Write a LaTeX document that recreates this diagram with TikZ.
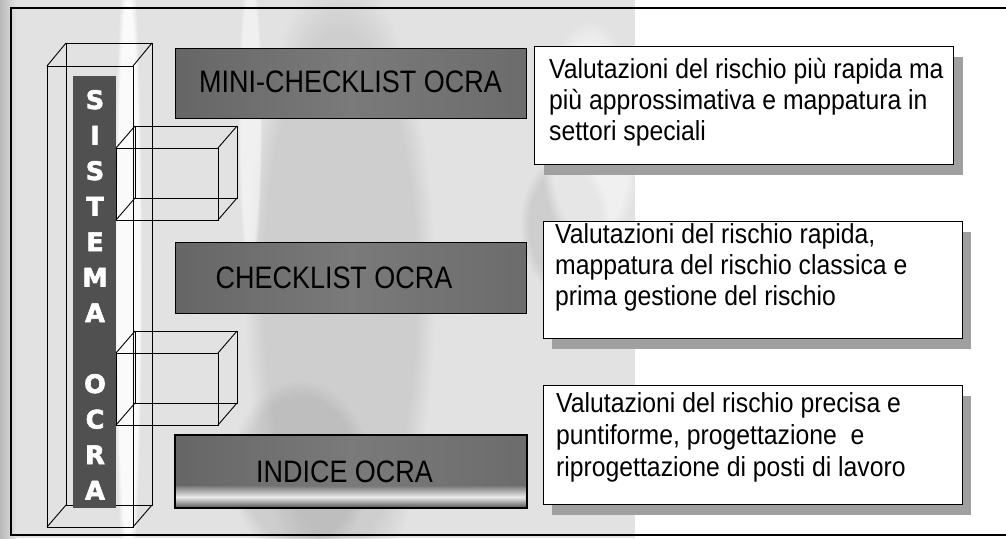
\documentclass[tikz,border=0pt]{standalone}
\usepackage{fontspec}
\setmainfont{Liberation Sans}
\newfontfamily\narrowfont[FakeStretch=0.87]{Liberation Sans}
\newfontfamily\descfont[FakeStretch=0.9]{Liberation Sans}
\newfontfamily\heavyfont[FakeBold=2.5]{DejaVu Sans Bold}
\usetikzlibrary{fadings}
\definecolor{bgc}{RGB}{226,226,226}
\definecolor{barc}{RGB}{80,80,80}
\definecolor{boxa}{RGB}{102,102,102}
\definecolor{boxb}{RGB}{122,122,122}
\definecolor{boxc}{RGB}{108,108,108}
\definecolor{shadowc}{RGB}{160,160,160}
\tikzset{
  wire/.style={draw=black,line width=0.9pt},
  graybox/.style={draw=black,line width=1.1pt,left color=boxa,right color=boxc,middle color=boxb,
    minimum width=351pt,minimum height=70pt,anchor=north west,inner sep=0pt},
  graylabel/.style={font=\narrowfont\fontsize{31}{31}\selectfont,text=black,inner sep=0pt},
  descbox/.style={draw=black,line width=1.1pt,fill=white,minimum width=419pt,
    minimum height=118pt,anchor=north west,inner sep=0pt},
  desctext/.style={anchor=base west,inner sep=0pt,font=\descfont\fontsize{27.5}{31}\selectfont},
  shadowbox/.style={fill=shadowc},
  barlabel/.style={anchor=base,inner sep=0pt,text=white,font=\heavyfont\fontsize{25.5}{35.5}\selectfont},
  frameline/.style={draw=black,line width=2.5pt}
}
\begin{document}
\begin{tikzpicture}[x=1pt,y=-1pt]
\useasboundingbox (0,0) rectangle (1006,538);
% background photo
\fill[white] (0,0) rectangle (1006,538);
\fill[bgc] (0,0) rectangle (635,538);
\shade[left color=gray!55,right color=bgc] (0,0) rectangle (16,538);
\fill[gray,opacity=0.2,path fading=circle with fuzzy edge 20 percent] (340,290) ellipse (95 and 320);
\fill[gray,opacity=0.2,path fading=circle with fuzzy edge 20 percent] (300,470) ellipse (70 and 90);
\fill[gray,opacity=0.2,path fading=circle with fuzzy edge 20 percent] (565,225) ellipse (45 and 70);
\fill[white,opacity=0.85,path fading=circle with fuzzy edge 20 percent] (128,270) ellipse (14 and 330);
\fill[white,opacity=0.5,path fading=circle with fuzzy edge 20 percent] (250,120) ellipse (12 and 160);
\fill[white,opacity=0.5,path fading=circle with fuzzy edge 20 percent] (590,140) ellipse (50 and 120);
% frame
\draw[frameline] (1006,8) -- (11,8) -- (11,535) -- (1006,535);
% column wireframe
\draw[wire] (47,66) rectangle (133,527);
\draw[wire] (66,43) rectangle (152,505);
\draw[wire] (47,66) -- (66,43) (133,66) -- (152,43) (47,527) -- (66,505) (133,527) -- (152,505);
% dark bar with letters
\fill[barc] (73,76) rectangle (116,508);
\node[barlabel] (sistema) at (95,109) {\parbox[t]{30pt}{\centering S\\I\\S\\T\\E\\M\\A\\\mbox{}\\O\\C\\R\\A}};
% small connecting boxes
\draw[wire] (116,148) rectangle (218,220);
\draw[wire] (135,126) rectangle (237,198);
\draw[wire] (116,148) -- (135,126) (218,148) -- (237,126) (116,220) -- (135,198) (218,220) -- (237,198);
\draw[wire] (116,353) rectangle (218,425);
\draw[wire] (135,331) rectangle (237,403);
\draw[wire] (116,353) -- (135,331) (218,353) -- (237,331) (116,425) -- (135,403) (218,425) -- (237,403);
% grey boxes
\node[graybox] (mini) at (175,48) {};
\node[graylabel] (minilab) at (350.5,82) {MINI-CHECKLIST OCRA};
\node[graybox,minimum height=71pt] (check) at (175,242) {};
\node[graylabel] (checklab) at (334,278) {CHECKLIST OCRA};
\node[graybox,minimum height=72pt] (indice) at (175,435) {};
\shade[top color=boxb,bottom color=gray!15] (175.6,486) rectangle (525.4,497);
\shade[top color=gray!15,bottom color=boxa] (175.6,497) rectangle (525.4,506.4);
\draw[draw=black,line width=1.1pt] (indice.north west) rectangle (indice.south east);
\node[graylabel] (indicelab) at (344.5,472) {INDICE OCRA};
% description boxes
\fill[shadowbox] (544,57) rectangle (963,175);
\node[descbox] (d1) at (534,46) {};
\node[desctext] (t1) at (549,78) {\parbox[t]{410pt}{\raggedright Valutazioni del rischio più rapida ma\\più approssimativa e mappatura in\\settori speciali}};
\fill[shadowbox] (552,232) rectangle (971,349);
\node[descbox,minimum height=117pt] (d2) at (543,221) {};
\node[desctext] (t2) at (555,243) {\parbox[t]{400pt}{\raggedright Valutazioni del rischio rapida,\\mappatura del rischio classica e\\prima gestione del rischio}};
\fill[shadowbox] (552,396) rectangle (971,515);
\node[descbox,minimum height=119pt] (d3) at (543,385) {};
\node[desctext,font=\descfont\fontsize{27.5}{32}\selectfont] (t3) at (556,412) {\parbox[t]{400pt}{\raggedright Valutazioni del rischio precisa e\\puntiforme, progettazione~ e\\riprogettazione di posti di lavoro}};
\end{tikzpicture}
\end{document}
